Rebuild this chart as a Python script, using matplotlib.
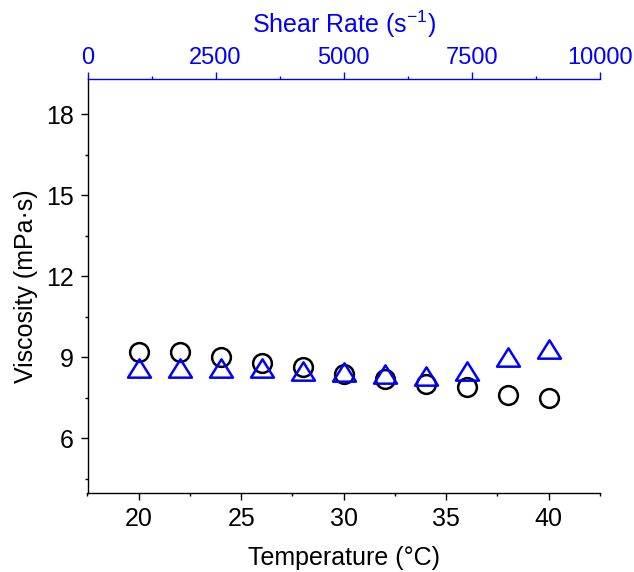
import matplotlib
matplotlib.use("Agg")
import matplotlib.pyplot as plt
from matplotlib.path import Path
from matplotlib.ticker import MultipleLocator

plt.rcParams["font.family"] = ["Liberation Sans", "DejaVu Sans"]

temperature = [20, 22, 24, 26, 28, 30, 32, 34, 36, 38, 40]
visc_temp = [9.2, 9.2, 9.0, 8.8, 8.65, 8.4, 8.2, 8.0, 7.9, 7.6, 7.5]
shear_rate = [1000, 1800, 2600, 3400, 4200, 5000, 5800, 6600, 7400, 8200, 9000]
visc_shear = [8.6, 8.6, 8.6, 8.6, 8.5, 8.45, 8.4, 8.3, 8.5, 9.0, 9.3]

BLUE = "#0000ff"
FS = 18
# open triangle, a bit wider than tall like Origin's
tri = Path([(-1, -0.8), (1, -0.8), (0, 0.8), (-1, -0.8)], closed=True)

fig = plt.figure(figsize=(6.34, 5.72), dpi=100)
ax = fig.add_axes([87.5 / 634, 1 - 492.5 / 572, 512.5 / 634, 413.5 / 572])
ax2 = ax.twiny()

ax.plot(temperature, visc_temp, linestyle="none", marker="o", ms=13.5,
        mfc="none", mec="black", mew=1.8)
ax2.plot(shear_rate, visc_shear, linestyle="none", marker=tri, ms=16.5,
         mfc="none", mec=BLUE, mew=1.8)

ax.set_xlim(17.5, 42.5)
ax.set_ylim(4, 19.3)
ax2.set_xlim(0, 10000)

ax.xaxis.set_major_locator(MultipleLocator(5))
ax.xaxis.set_minor_locator(MultipleLocator(2.5))
ax.yaxis.set_major_locator(MultipleLocator(3))
ax.yaxis.set_minor_locator(MultipleLocator(1.5))
ax2.xaxis.set_major_locator(MultipleLocator(2500))
ax2.xaxis.set_minor_locator(MultipleLocator(1250))

for a in (ax, ax2):
    a.spines["right"].set_visible(False)
    for s in a.spines.values():
        s.set_linewidth(1.0)
ax.spines["top"].set_visible(False)
ax2.spines["bottom"].set_visible(False)
ax2.spines["left"].set_visible(False)
ax2.spines["top"].set_color(BLUE)

ax.tick_params(which="major", direction="out", length=5, width=1.0,
               labelsize=FS, top=False, right=False)
ax.tick_params(which="minor", direction="out", length=2.5, width=1.0,
               top=False, right=False)
ax.tick_params(axis="x", which="major", pad=5.6)
ax.tick_params(axis="y", which="major", pad=5)
ax2.tick_params(which="major", direction="out", length=5, width=1.0,
                labelsize=17, colors=BLUE, pad=2)
ax2.tick_params(which="minor", direction="out", length=2.5, width=1.0,
                colors=BLUE)

ax.set_xlabel("Temperature (°C)", fontsize=FS, labelpad=11)
ax.set_ylabel("Viscosity (mPa·s)", fontsize=FS, labelpad=5.5)
ax2.set_xlabel(r"Shear Rate (s$\mathregular{^{-1}}$)", fontsize=FS,
               color=BLUE, labelpad=10)

fig.savefig("out.png", dpi=100)
